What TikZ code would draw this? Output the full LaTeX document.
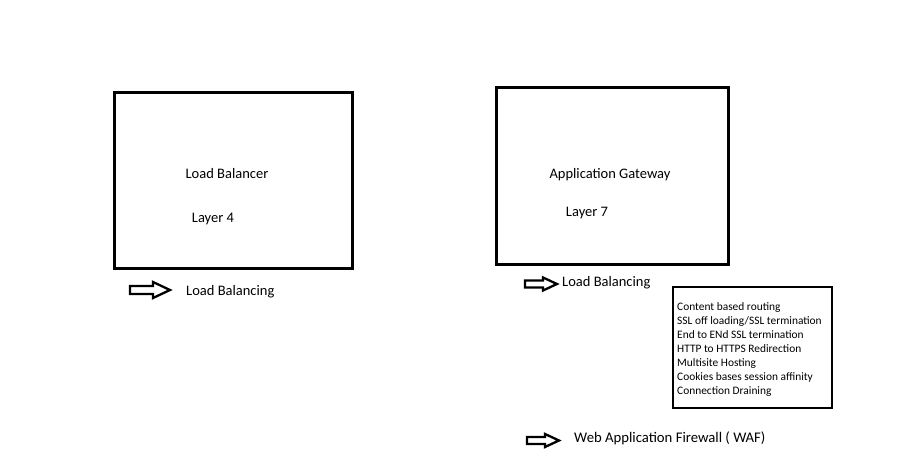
\documentclass[tikz,border=0pt]{standalone}
\usepackage{fontspec}
\setmainfont{Carlito}
\begin{document}
\begin{tikzpicture}[x=1pt,y=-1pt,
  bigbox/.style={draw,line width=3pt},
  listbox/.style={draw,line width=2.8pt},
  lbl/.style={font=\fontsize{14.5}{16}\selectfont,inner sep=0pt},
  lst/.style={font=\fontsize{11.4}{14}\selectfont,inner sep=0pt,align=left},
  blockarrow/.style={draw,line width=2.3pt,fill=white,line join=miter},
]
\useasboundingbox (0,0) rectangle (900,465);
\draw[bigbox] (114,93) rectangle (352,269);
\draw[bigbox] (496,88) rectangle (728,265);
\node[lbl] (lb) at (227,174) {Load Balancer};
\node[lbl] (l4) at (213,219) {Layer 4};
\node[lbl] (ag) at (610,175) {Application Gateway};
\node[lbl] (l7) at (587,213) {Layer 7};

\coordinate (a1) at (150,290);
\draw[blockarrow,shift={(a1)}] (-20,-4) -- (3,-4) -- (3,-8) -- (20,0) -- (3,8) -- (3,4) -- (-20,4) -- cycle;
\node[lbl,anchor=west] (t1) at (186,292) {Load Balancing};
\coordinate (a2) at (541,284);
\draw[blockarrow,shift={(a2)}] (-16,-3.5) -- (2,-3.5) -- (2,-6.5) -- (16,0) -- (2,6.5) -- (2,3.5) -- (-16,3.5) -- cycle;
\node[lbl,anchor=west] (t2) at (562,283) {Load Balancing};
\coordinate (a3) at (543,440.5);
\draw[blockarrow,shift={(a3)}] (-16,-3.5) -- (2,-3.5) -- (2,-6.5) -- (16,0) -- (2,6.5) -- (2,3.5) -- (-16,3.5) -- cycle;
\node[lbl,anchor=west,font=\fontsize{14.7}{16}\selectfont] (t3) at (574,438) {Web Application Firewall ( WAF)};

\draw[listbox] (673,287) rectangle (832,408);
\node[lst,anchor=north west] (feat) at (677,302.5) {Content based routing\\
SSL off loading/SSL termination\\
End to ENd SSL termination\\
HTTP to HTTPS Redirection\\
Multisite Hosting\\
Cookies bases session affinity\\
Connection Draining};
\end{tikzpicture}
\end{document}
